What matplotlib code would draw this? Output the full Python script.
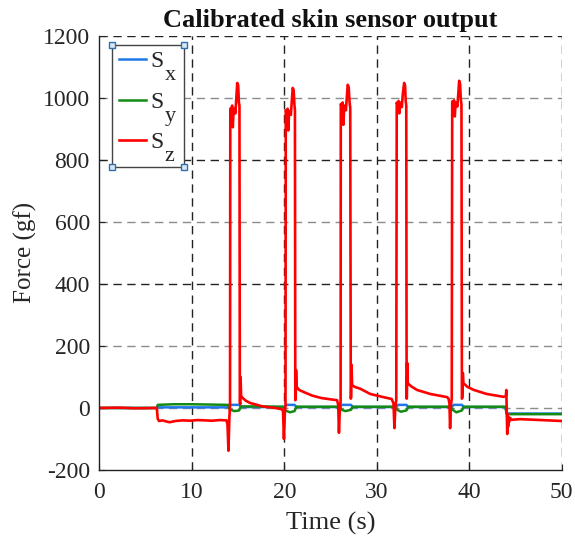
import matplotlib
matplotlib.use("Agg")
import matplotlib.pyplot as plt
from matplotlib.ticker import MultipleLocator
from matplotlib.patches import Rectangle

plt.rcParams['font.family'] = ['Liberation Serif', 'DejaVu Serif']
plt.rcParams['axes.unicode_minus'] = False

title = "Calibrated skin sensor output"
xlabel = "Time (s)"
ylabel = "Force (gf)"
label_main = ["S", "S", "S"]
label_sub = ["x", "y", "z"]

# Sx (blue)
sx_t = [0, 6.2, 6.3, 13.9, 14.1, 15.1, 15.3, 20.0, 20.2, 21.1, 21.3, 26.0, 26.2, 27.2, 27.4,
        32.1, 32.3, 33.2, 33.4, 38.1, 38.3, 39.2, 39.4, 43.9, 44.05, 50]
sx_v = [0, 0, 2, 2, 10, 10, 3, 3, 10, 10, 3, 3, 10, 10, 3,
        3, 10, 10, 3, 3, 10, 10, 3, 3, -18, -18]

# Sy (green)
sy_t = [0, 6.2, 6.3, 8, 10, 12, 13.9, 14.1, 14.6, 15.1, 15.3, 17, 19.9, 20.1, 20.6, 21.1, 21.3,
        26.0, 26.2, 26.6, 27.2, 27.4, 32.0, 32.2, 32.6, 33.2, 33.4, 38.0, 38.2, 38.6, 39.2, 39.4,
        43.9, 44.05, 50]
sy_v = [0, 0, 10, 12, 12, 11, 10, -5, -10, -8, 5, 5, 4, -8, -14, -10, 4,
        4, -6, -10, -6, 4, 4, -6, -12, -8, 4, 4, -6, -14, -8, 4,
        4, -20, -20]

# Sz (red)
sz_t = [0, 2, 4, 6.2, 6.3, 6.45, 6.8, 7.3, 7.6, 8.2, 9.0, 9.8, 10.6, 11.4, 12.2, 13.0, 13.75, 13.85,
        13.95, 14.05, 14.12,
        14.15, 14.25, 14.35, 14.42, 14.5, 14.6, 14.7, 14.8, 14.9, 15.0, 15.08, 15.14, 15.18,
        15.22, 15.26, 15.32, 15.5, 15.8, 16.3, 16.8, 17.5, 18.2, 19.0, 19.7, 19.85, 19.95, 20.05, 20.12,
        20.15, 20.25, 20.35, 20.42, 20.5, 20.6, 20.7, 20.8, 20.9, 21.0, 21.08, 21.14, 21.18,
        21.22, 21.26, 21.32, 21.6, 22.2, 23.0, 24.0, 25.0, 25.7, 25.82, 25.9, 26.0, 26.08,
        26.1, 26.2, 26.3, 26.38, 26.45, 26.55, 26.65, 26.75, 26.85, 26.95, 27.05, 27.12, 27.18,
        27.22, 27.26, 27.32, 27.6, 28.2, 29.3, 30.7, 31.6, 31.8, 31.9, 32.0, 32.1,
        32.15, 32.25, 32.35, 32.43, 32.5, 32.6, 32.7, 32.8, 32.95, 33.05, 33.12, 33.18, 33.22,
        33.25, 33.28, 33.34, 33.7, 34.35, 35.8, 37.6, 37.75, 37.85, 37.92, 38.0, 38.1,
        38.15, 38.25, 38.35, 38.43, 38.5, 38.6, 38.7, 38.8, 38.9, 39.0, 39.08, 39.15, 39.2,
        39.25, 39.3, 39.36, 39.8, 40.5, 41.9, 43.7, 43.95, 44.0, 44.05, 44.1, 44.15, 44.2, 44.25,
        44.3, 44.4, 44.6, 45.5, 47.0, 48.5, 50]
sz_v = [0, 1, -1, 0, -35, -42, -40, -44, -46, -42, -40, -41, -39, -40, -41, -39, -40, -55,
        -138, -30, 10,
        965, 958, 975, 905, 955, 965, 950, 1000, 1048, 1040, 985, 975, 20,
        12, 100, 38, 32, 24, 16, 12, 6, 3, 0, -4, -10, -100, -15, 8,
        960, 950, 965, 895, 950, 958, 945, 990, 1032, 1025, 980, 960, 25,
        30, 122, 68, 58, 50, 40, 32, 28, 25, 10, -80, 0, 20,
        980, 972, 985, 913, 960, 975, 960, 1000, 1042, 1035, 985, 968, 30,
        35, 139, 74, 68, 62, 45, 35, 29, 15, -65, 5, 25,
        985, 978, 990, 950, 975, 985, 970, 1010, 1048, 1040, 990, 975, 30,
        35, 145, 80, 70, 58, 45, 35, 30, 15, -65, 5, 30,
        988, 980, 992, 940, 975, 985, 972, 1010, 1055, 1045, 995, 978, 30,
        35, 113, 80, 68, 58, 45, 36, 38, 58, -10, -84, -20, -60, -30,
        -45, -32, -38, -36, -38, -40, -42]

fig = plt.figure(figsize=(5.75, 5.38), dpi=100)
ax = fig.add_axes([0.173, 0.1264, 0.804, 0.807])

lx, = ax.plot(sx_t, sx_v, color='#1f78e8', lw=1.8, label=label_main[0])
ly, = ax.plot(sy_t, sy_v, color='#138a13', lw=1.8, label=label_main[1])
lz, = ax.plot(sz_t, sz_v, color='#ff0000', lw=1.9, label=label_main[2])

ax.set_xlim(0, 50)
ax.set_ylim(-200, 1200)
ax.xaxis.set_major_locator(MultipleLocator(10))
ax.yaxis.set_major_locator(MultipleLocator(200))

# grid lines
for x in [10, 20, 30, 40, 50]:
    ax.axvline(x, color='#222222', lw=1.0, ls=(0, (6, 4)), zorder=0.5)
for y in [1200, 800, 400]:
    ax.axhline(y, color='#222222', lw=1.0, ls=(0, (6, 4)), zorder=0.5)
for y in [1000, 600, 200, 0]:
    ax.axhline(y, color='#8c8c8c', lw=1.0, ls=(0, (6, 4)), zorder=0.5)

for s in ['top', 'right']:
    ax.spines[s].set_visible(False)
for s in ['left', 'bottom']:
    ax.spines[s].set_color('#222222')
    ax.spines[s].set_linewidth(1.0)

ax.tick_params(direction='in', length=4, width=0.8, colors='#222222',
               labelsize=17, labelcolor='#262626')
ax.tick_params(axis='x', pad=9)
ax.tick_params(axis='y', pad=7)

ax.set_title(title, fontsize=19, fontweight='bold', color='#111111', pad=6)
ax.set_xlabel(xlabel, fontsize=19, color='#262626', labelpad=6)
ax.set_ylabel(ylabel, fontsize=18, color='#262626', labelpad=4)

leg = ax.legend(handles=[lx, ly, lz], loc='upper left', bbox_to_anchor=(0.029, 0.979),
                fontsize=17, frameon=False,
                handlelength=1.15, handletextpad=0.2, labelspacing=0.8,
                borderpad=0.25, borderaxespad=0.0)
leg.set_zorder(5)
for t in leg.get_texts():
    t.set_color('#262626')

fig.canvas.draw()
r = fig.canvas.get_renderer()
inv = fig.transFigure.inverted()
sub_boxes = []
for txt, sub in zip(leg.get_texts(), label_sub):
    tb = txt.get_window_extent(r)
    px = tb.x1 + 0.5
    py = tb.y0 + 5 - 13
    fx, fy = inv.transform((px, py))
    st = fig.text(fx, fy, sub, fontsize=16, color='#262626', ha='left', va='baseline', zorder=7)
    sub_boxes.append(st.get_window_extent(r))

lb = leg.get_window_extent(r)
fx0 = lb.x0 - 1
fy1 = lb.y1
fx1 = max(b.x1 for b in sub_boxes) + 8
fy0 = min(b.y0 for b in sub_boxes) - 1
(x0, y0) = inv.transform((fx0, fy0))
(x1, y1) = inv.transform((fx1, fy1))
frame = Rectangle((x0, y0), x1 - x0, y1 - y0, transform=fig.transFigure,
                  facecolor='white', edgecolor='#444444', lw=1.0, zorder=4, clip_on=False)
ax.add_artist(frame)
fig.lines.append(plt.Line2D([x0, x1, x0, x1], [y0, y0, y1, y1], transform=fig.transFigure,
                            ls='none', marker='s', ms=5, mfc='#d9e8f5', mec='#2f6fad', mew=1.0,
                            zorder=6))

fig.savefig("out.png", dpi=100)
